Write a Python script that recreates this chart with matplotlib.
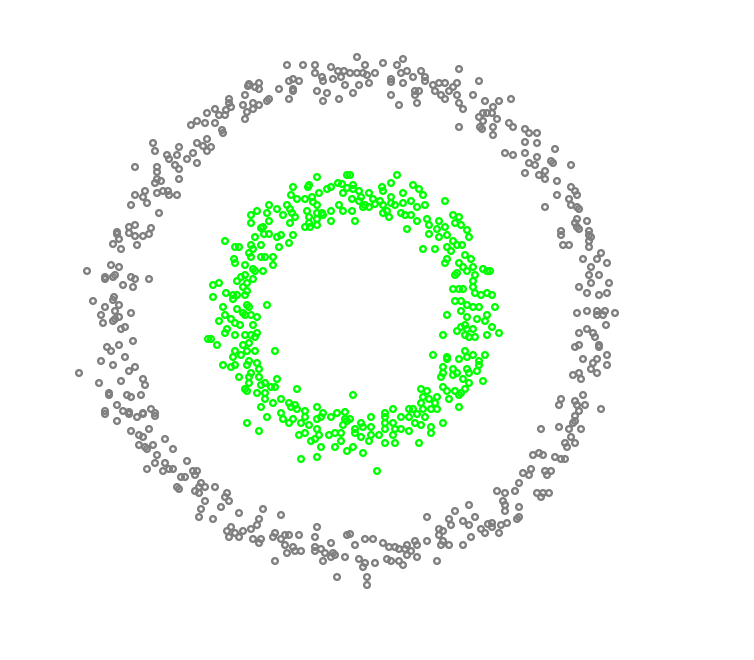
import matplotlib
matplotlib.use("Agg")
import matplotlib.pyplot as plt

# Outer ring (gray) points, (x, y) in image-reading units
outer_points = [
    (207,113),(191,125),(197,121),(205,123),(153,143),(155,151),(179,147),(167,155),(177,155),(169,159),
    (187,159),(193,153),(197,143),(207,139),(203,146),(207,151),(197,163),(175,165),(179,169),(135,167),
    (157,167),(157,172),(179,179),(157,179),(161,181),(155,183),(145,191),(143,197),(135,195),(147,203),
    (157,193),(163,191),(168,191),(169,195),(177,195),(131,205),(159,213),(135,225),(129,227),(151,228),(117,232),
    (287,65),(303,65),(315,65),(331,67),(338,71),(344,71),(315,73),(322,77),(323,81),(333,79),
    (341,77),(345,85),(317,91),(327,93),(323,101),(339,99),(289,81),(293,79),(299,81),(293,89),
    (293,91),(279,89),(289,99),(259,83),(259,89),(249,84),(248,86),(255,87),(245,95),(243,105),
    (253,103),(259,105),(253,109),(247,112),(245,119),(267,101),(269,99),(229,99),(229,103),(231,107),
    (226,110),(215,109),(219,115),(225,115),(215,123),(222,130),(223,133),(211,147),
    (357,57),(365,65),(383,63),(403,59),(397,65),(401,73),(407,71),(413,77),(421,71),(425,77),
    (425,81),(459,69),(350,73),(357,73),(363,73),(367,75),(375,73),(369,83),(359,85),(353,93),
    (391,79),(391,82),(403,83),(391,95),(399,105),(415,91),(419,91),(415,95),(417,103),(433,85),
    (439,83),(445,83),(457,83),(453,87),(449,91),(435,91),(441,95),(445,99),(457,95),(459,103),
    (463,109),(473,95),(479,81),(485,101),(479,117),(483,113),(487,113),(483,121),(459,127),(480,127),(482,129),
    (511,99),(499,101),(493,107),(492,113),(497,119),(509,123),(513,127),(493,127),(493,135),(525,129),
    (529,133),(537,133),(525,142),(537,143),(555,149),(505,153),(513,155),(525,153),(537,157),(529,163),
    (535,165),(551,161),(553,163),(571,165),(525,173),(545,171),(539,175),(545,179),(557,181),(571,187),
    (575,191),(577,195),(557,195),(569,199),(571,205),(577,207),(579,209),(545,207),(577,219),(575,223),
    (587,221),(577,227),(579,229),(561,231),(589,231),
    (117,234),(119,239),(113,244),(121,249),(129,233),(135,236),(143,236),(149,234),(137,245),(111,265),
    (119,267),(87,271),(105,277),(105,279),(115,275),(113,277),(131,277),(135,279),(149,279),(123,285),
    (133,287),(93,301),(114,297),(113,300),(119,305),(105,307),(115,311),(131,313),(101,315),(119,317),
    (103,323),(113,321),(115,319),(121,329),(125,327),(133,341),(119,345),(107,347),(111,351),(125,357),
    (101,361),(113,365),(135,367),(129,371),(79,373),(143,379),(145,385),(121,381),(99,383),(109,393),
    (109,395),(127,395),(131,397),(141,395),(117,405),(123,411),(105,411),(151,409),(129,412),(143,413),(155,413),
    (561,235),(589,235),(591,237),(563,245),(569,245),(589,247),(589,241),(601,253),(583,259),(597,259),
    (607,263),(591,267),(589,275),(599,275),(591,283),(609,283),(579,287),(587,293),(599,295),(607,293),
    (577,313),(587,311),(597,311),(605,311),(615,313),(597,315),(603,315),(606,325),(579,333),(587,329),
    (593,333),(595,337),(575,347),(579,345),(599,345),(599,347),(583,359),(597,359),(607,355),(593,363),
    (591,369),(597,373),(607,365),(573,375),(579,373),(581,379),(583,395),(561,399),(559,405),(575,401),
    (577,405),(585,405),(601,409),(579,411),
    (105,414),(117,421),(129,414),(137,417),(143,414),(155,416),(131,431),(149,429),(139,435),(143,437),
    (165,439),(139,445),(145,447),(147,449),(153,445),(173,449),(157,455),(155,463),(165,463),(147,469),
    (163,471),(169,469),(173,469),(187,461),(193,471),(197,471),(195,475),(181,477),(185,477),(177,487),
    (179,489),(201,483),(199,487),(205,487),(195,491),(199,493),(205,501),(201,509),(199,517),
    (215,487),(227,493),(225,497),(229,501),(221,507),(239,513),(263,509),(281,515),(213,519),(259,519),
    (257,525),(251,529),(243,531),(231,527),(227,531),(235,533),(229,537),(239,537),(253,539),(261,539),
    (259,543),(273,537),(275,533),(281,539),(285,535),(289,535),(285,545),(293,547),(299,535),(287,553),
    (295,551),(301,551),(275,561),(317,527),(315,537),(315,547),(315,551),(321,549),(325,553),(331,543),
    (323,561),(331,557),(333,553),(335,555),(345,557),(347,535),(337,577),
    (469,505),(455,511),(475,517),(427,517),(449,519),(463,521),(469,525),(451,525),(439,529),(443,531),
    (481,529),(485,533),(488,524),(439,535),(471,537),(443,541),(441,545),(449,545),(463,545),(427,541),
    (417,545),(415,541),(407,545),(411,551),(405,549),(399,549),(395,547),(389,547),(383,543),(373,539),
    (365,539),(355,545),(350,534),(417,557),(407,555),(399,561),(403,565),(391,561),(387,559),(375,563),
    (365,563),(359,559),(363,567),(367,577),(367,585),(437,561),
    (575,416),(575,421),(573,423),(559,427),(541,429),(569,429),(581,429),(571,437),(565,443),(575,443),
    (567,447),(533,455),(539,453),(543,455),(555,457),(561,459),(565,459),(523,473),(531,469),(529,475),
    (545,471),(551,471),(547,475),(519,483),(497,491),(505,493),(515,491),(537,493),(543,493),(549,493),
    (541,497),(503,501),(505,505),(519,507),(505,511),(519,517),(517,519),(507,523),(501,525),(492,523),
    (492,527),(499,533),
]

# Inner ring (green) points
inner_points = [
    (317,177),(347,175),(293,187),(309,185),(308,187),(291,195),(297,199),(305,199),(312,197),(313,202),
    (319,193),(327,189),(331,187),(338,183),(342,184),(343,193),(347,188),(339,205),(343,211),(317,205),
    (269,205),(277,209),(287,205),(290,209),(292,213),(283,215),(295,217),(307,211),(309,217),(317,213),
    (322,213),(323,215),(331,211),(331,221),(317,219),(317,225),(309,223),(310,227),(267,213),(257,211),
    (251,215),(269,221),(251,223),(290,223),(263,227),(261,228),(305,227),
    (397,175),(391,183),(413,185),(419,189),(423,195),(445,201),(353,185),(350,175),(353,189),(359,191),
    (369,193),(382,187),(383,191),(391,197),(403,193),(352,199),(361,197),(373,199),(380,201),(375,204),
    (359,201),(365,205),(369,207),(363,207),(383,205),(391,203),(395,205),(403,203),(411,201),(417,207),
    (425,205),(387,211),(383,213),(389,217),(401,213),(405,215),(411,215),(352,211),(355,221),(407,229),
    (417,221),(427,219),(429,225),(439,221),(437,229),(445,227),(453,215),(459,217),(455,223),(461,225),(467,230),
    (208,339),
    (225,241),(255,237),(264,234),(269,234),(277,237),(281,235),(293,235),(289,243),(279,247),(261,245),
    (251,245),(253,249),(235,247),(239,247),(249,253),(251,257),(261,257),(265,257),(273,257),(273,265),
    (234,259),(235,263),(245,265),(253,269),(255,271),(263,271),(241,277),(245,275),(237,281),(247,283),
    (253,279),(243,287),(213,285),(219,283),(213,297),(226,293),(233,295),(237,295),(245,295),(247,291),
    (233,299),(267,305),(247,305),(249,307),(223,307),(237,309),(243,313),(245,315),(251,315),(257,317),
    (225,315),(219,321),(231,319),(235,323),(240,325),(253,325),(227,329),(225,333),(235,335),(245,335),
    (251,335),(257,333),(255,337),(211,339),(249,343),(217,345),(243,345),(235,351),(247,351),(255,351),
    (275,351),(241,355),(233,357),(249,361),(257,363),(259,369),(223,365),(231,367),(235,365),(247,365),
    (251,373),(239,377),(249,377),(259,377),(277,379),(249,383),(261,385),(265,383),(271,387),(275,387),
    (245,389),(247,391),(257,393),(265,393),(297,389),(265,399),(273,403),(281,399),(261,407),(289,403),
    (291,407),(295,405),(297,409),(281,413),(305,411),(317,407),(323,413),(337,413),(345,412),
    (429,234),(439,237),(447,235),(469,237),(423,249),(435,249),(447,247),(451,251),(457,245),(453,241),
    (462,245),(465,255),(471,259),(447,259),(445,263),(459,263),(463,267),(473,267),(483,269),(487,271),
    (457,273),(467,271),(475,275),(473,281),(455,275),(473,287),(453,289),(459,289),(463,289),(475,293),
    (481,295),(487,293),(455,301),(461,301),(461,311),(467,305),(473,307),(479,307),(447,315),(467,317),
    (477,319),(487,315),(485,321),(465,325),(461,327),(457,331),(467,329),(473,329),(465,335),(469,337),
    (475,337),(487,335),(443,335),(433,355),(447,357),(459,359),(465,351),(473,355),(485,355),(479,361),
    (467,357),(447,359),(443,367),(443,373),(441,377),(453,369),(453,375),(457,373),(463,379),(467,369),
    (469,373),(477,371),(479,365),(483,381),(469,383),(421,389),(427,391),(443,387),(447,391),(455,391),
    (461,393),(465,389),(459,395),(449,399),(423,397),(429,399),(437,397),(435,403),(421,403),(353,395),
    (393,409),(409,409),(413,409),(423,409),(431,409),(437,409),(459,407),(385,413),
    (492,295),(495,307),(492,327),(499,333),(490,271),
    (247,423),(259,431),(267,417),(283,419),(289,423),(293,419),(301,423),(305,417),(309,425),(317,419),
    (321,417),(331,417),(345,419),(317,429),(299,435),(305,433),(311,441),(315,439),(319,435),(329,435),
    (335,433),(341,433),(343,425),(347,421),(341,441),(335,447),(321,447),(347,451),(301,459),(317,457),
    (350,419),(361,423),(363,427),(371,417),(371,427),(385,417),(385,423),(355,429),(355,433),(361,437),
    (371,435),(379,435),(385,429),(393,423),(395,429),(401,429),(401,417),(409,417),(409,431),(415,423),
    (417,414),(421,425),(425,417),(431,427),(431,433),(443,423),(385,443),(395,443),(369,441),(353,447),
    (419,443),(363,453),(377,471),(393,435),
]

outer_x = [p[0] for p in outer_points]
outer_y = [p[1] for p in outer_points]
inner_x = [p[0] for p in inner_points]
inner_y = [p[1] for p in inner_points]

fig = plt.figure(figsize=(7.54, 6.60), dpi=100)
ax = fig.add_axes([0, 0, 1, 1])
ax.scatter(outer_x, outer_y, s=17, facecolors='none', edgecolors='#808080', linewidths=1.7)
ax.scatter(inner_x, inner_y, s=17, facecolors='none', edgecolors='#00ff00', linewidths=1.7)
ax.set_xlim(0, 754)
ax.set_ylim(660, 0)
ax.axis('off')
fig.savefig('out.png', dpi=100)
